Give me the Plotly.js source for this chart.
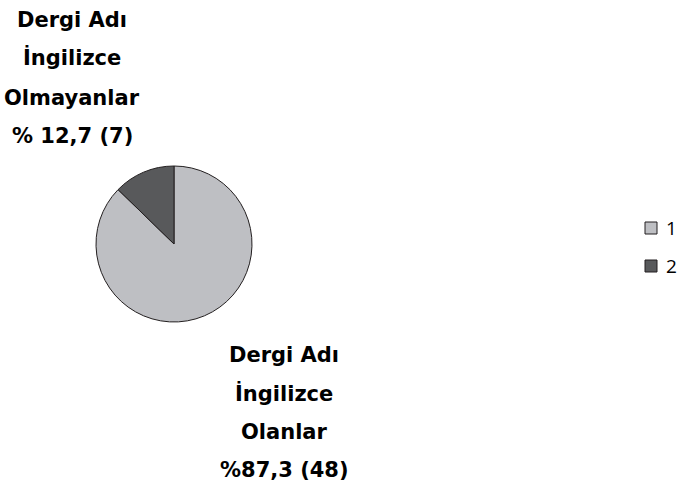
<!DOCTYPE html>
<html>
<head>
<meta charset="utf-8">
<script src="https://cdn.plot.ly/plotly-3.0.1.min.js"></script>
<style>html,body{margin:0;padding:0;background:#fff;}#chart{width:677px;height:488px;}</style>
</head>
<body>
<div id="chart"></div>
<script>
const legendLabels = ["1", "2"];
const sliceValues = [48, 7];
const sliceColors = ["#BEBFC3", "#58595B"];
const labelSmall = ["Dergi Adı", "İngilizce", "Olmayanlar", "% 12,7 (7)"];
const labelLarge = ["Dergi Adı", "İngilizce", "Olanlar", "%87,3 (48)"];

const W = 677, H = 488;
const px = x => x / W;
const py = y => 1 - y / H;

const trace = {
  type: "pie",
  values: sliceValues,
  labels: legendLabels,
  sort: false,
  direction: "clockwise",
  rotation: 0,
  textinfo: "none",
  hoverinfo: "none",
  showlegend: false,
  marker: {colors: sliceColors, line: {color: "#231F20", width: 1}},
  domain: {x: [px(96), px(252)], y: [py(322), py(166)]}
};

const annotations = [];
const labFont = {family: "Comic Sans MS, 'DejaVu Sans', sans-serif", size: 21, color: "#000"};
const topY = [20, 58, 98, 136];
labelSmall.forEach((t, i) => annotations.push({
  xref: "paper", yref: "paper", x: px(72), y: py(topY[i]), text: "<b>" + t + "</b>",
  showarrow: false, xanchor: "center", yanchor: "middle", font: labFont
}));
const botY = [355, 393, 432, 470];
labelLarge.forEach((t, i) => annotations.push({
  xref: "paper", yref: "paper", x: px(284), y: py(botY[i]), text: "<b>" + t + "</b>",
  showarrow: false, xanchor: "center", yanchor: "middle", font: labFont
}));

const shapes = [];
const legY = [228, 266];
legendLabels.forEach((l, i) => {
  shapes.push({
    type: "rect", xref: "paper", yref: "paper",
    x0: px(645), x1: px(657), y0: py(legY[i] + 6), y1: py(legY[i] - 6),
    fillcolor: sliceColors[i], line: {color: "#231F20", width: 1}
  });
  annotations.push({
    xref: "paper", yref: "paper", x: px(664), y: py(legY[i]), text: l,
    showarrow: false, xanchor: "left", yanchor: "middle",
    font: {family: "'Open Sans', sans-serif", size: 19, color: "#000"}
  });
});

const layout = {
  width: W, height: H,
  margin: {l: 0, r: 0, t: 0, b: 0},
  paper_bgcolor: "#fff",
  showlegend: false,
  annotations: annotations,
  shapes: shapes
};

Plotly.newPlot("chart", [trace], layout, {displayModeBar: false, staticPlot: true});
</script>
</body>
</html>
